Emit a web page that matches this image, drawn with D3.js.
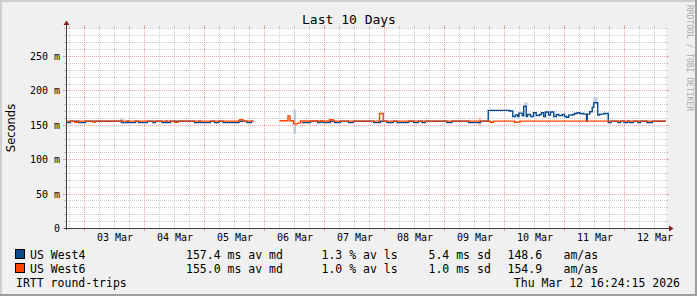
<!DOCTYPE html>
<html>
<head>
<meta charset="utf-8">
<script src="https://cdn.jsdelivr.net/npm/d3@7/dist/d3.min.js"></script>
<style>
  html, body { margin: 0; padding: 0; background: #f0f0f0; }
  svg { display: block; }
</style>
</head>
<body>
<svg id="chart" width="697" height="296"></svg>
<script>
// all times are hours since 2026-03-02 00:00, values in milliseconds
const title = "Last 10 Days";
const yLabel = "Seconds";
const watermark = "RRDTOOL / TOBI OETIKER";
const startHour = 16.404;
const endHour = 256.404;
const yMax = 290.7;

const yTicks = [0, 50, 100, 150, 200, 250];
const yTickLabels = ["0", "50 m", "100 m", "150 m", "200 m", "250 m"];
const dayTicks = [24, 48, 72, 96, 120, 144, 168, 192, 216, 240];
const dayLabels = ["03 Mar", "04 Mar", "05 Mar", "06 Mar", "07 Mar", "08 Mar", "09 Mar", "10 Mar", "11 Mar", "12 Mar"];

// US West4 (step changes, null = no data)
const west4Hours = [16.4, 18.2, 21.4, 24.2, 38.6, 41.0, 41.4, 44.2, 45.4, 49.0, 51.2, 52.2, 54.8, 56.2, 56.8, 58.2,
  67.8, 69.6, 70.2, 74.2, 75.8, 77.6, 79.2, 85.6, 88.8, 90.6, 91.4,
  110.8, 114.2, 117.0, 118.2, 119.0, 122.2, 123.8, 126.2, 129.4, 131.4, 139.4, 142.2, 144.8, 147.4, 148.8, 153.4,
  155.4, 157.4, 158.8, 160.2, 168.8, 170.8, 177.4, 182.2,
  185.3, 193.8, 195.1, 196.2, 197.1, 197.6, 198.9, 199.5, 200.5, 201.0, 202.2, 203.4, 204.5, 205.8, 206.6, 207.5,
  208.2, 209.4, 210.2, 211.5, 212.5, 213.5, 214.9, 215.8, 216.6, 217.5, 218.9, 219.8, 220.9, 221.9, 223.5, 224.6,
  224.9, 225.9, 226.9, 227.5, 229.1, 229.9, 231.5,
  233.3, 234.4, 237.2, 238.2, 239.6, 241.0, 241.8, 243.4, 245.2, 246.2, 248.8, 251.0];
const west4Values = [153.1, 155.2, 153.1, 155.2, 153.1, 155.2, 153.1, 155.2, 153.1, 155.2, 153.1, 155.2, 153.1, 155.2, 153.1, 155.2,
  153.1, 155.2, 153.1, 155.2, 153.1, 155.2, 153.1, 155.2, 153.1, 155.2, null,
  153.1, 155.2, 153.1, 155.2, 153.1, 155.2, 153.1, 155.2, 153.1, 155.2, 153.1, 155.2, 153.1, 155.2, 153.1, 155.2,
  153.1, 155.2, 153.1, 155.2, 153.1, 155.2, 153.1, 155.2,
  171.0, 170.0, 162.0, 164.5, 162.0, 167.0, 163.0, 177.0, 162.0, 165.0, 162.0, 167.5, 163.5, 165.0, 167.5, 162.0,
  168.5, 164.0, 168.5, 162.0, 165.0, 163.5, 165.0, 162.0, 161.0, 164.0, 165.0, 166.5, 167.5, 166.5, 165.5, 155.0,
  165.5, 169.0, 175.5, 182.0, 164.0, 165.5, 166.5,
  153.1, 155.2, 153.1, 155.2, 153.1, 155.2, 153.1, 155.2, 153.1, 155.2, 153.1, 155.2];

// US West6
const west6Hours = [16.4, 19.8, 21.2, 27.0, 28.2, 59.8, 61.2, 85.8, 87.2, 91.4,
  101.8, 105.2, 106.0, 107.4, 109.0, 110.2, 121.8, 123.4, 141.8, 143.3, 186.2, 187.4, 195.8, 198.0];
const west6Values = [155.3, 153.8, 155.3, 154.0, 155.3, 153.8, 155.3, 157.5, 155.3, null,
  155.8, 163.0, 155.8, 151.3, 152.5, 155.5, 157.3, 155.3, 166.4, 155.3, 153.8, 155.3, 153.8, 155.3];

// smoke (spread) patches
const west4SmokeStart = [38.2, 107.4, 199.8, 227.4];
const west4SmokeEnd = [39.4, 108.4, 201.0, 229.0];
const west4SmokeLow = [153.0, 137.0, 178.0, 183.0];
const west4SmokeHigh = [159.0, 172.0, 182.4, 190.0];
const west6SmokeStart = [177.4, 181.4];
const west6SmokeEnd = [178.2, 182.5];
const west6SmokeLow = [153.0, 148.0];
const west6SmokeHigh = [158.0, 160.0];

const seriesNames = ["US West4", "US West6"];
const seriesColors = ["#0b4b8d", "#ff4500"];
const smokeColors = ["#bccbdd", "#ffc4ae"];
const statMedian = ["157.4 ms av md", "155.0 ms av md"];
const statLoss = ["1.3 % av ls", "1.0 % av ls"];
const statSd = ["5.4 ms sd", "1.0 ms sd"];
const statAmAs = ["148.6", "154.9"];
const footer = "IRTT round-trips";
const stamp = "Thu Mar 12 16:24:15 2026";

const W = 697, H = 296;
const pL = 66, pR = 666, pT = 28, pB = 228;
const mono = "DejaVu Sans Mono, monospace";

const svg = d3.select("#chart");
const x = d3.scaleLinear().domain([startHour, endHour]).range([pL, pR]);
const y = d3.scaleLinear().domain([0, yMax]).range([pB, pT]);
const px = v => Math.floor(x(v)) + 0.5;
const py = v => Math.round(y(v)) + 0.5;

// background and frame
svg.append("rect").attr("width", W).attr("height", H).attr("fill", "#f0f0f0");
svg.append("rect").attr("x", 0).attr("y", 0).attr("width", W).attr("height", 2).attr("fill", "#cfcfcf");
svg.append("rect").attr("x", 0).attr("y", 0).attr("width", 2).attr("height", H).attr("fill", "#cfcfcf");
svg.append("rect").attr("x", 0).attr("y", H - 2).attr("width", W).attr("height", 2).attr("fill", "#9e9e9e");
svg.append("rect").attr("x", W - 2).attr("y", 0).attr("width", 2).attr("height", H).attr("fill", "#9e9e9e");

svg.append("rect").attr("x", pL).attr("y", pT).attr("width", pR - pL).attr("height", pB - pT)
  .attr("fill", "#ffffff");

const gridCol = "rgba(143,143,143,0.45)";
const mgridCol = "rgba(222,80,80,0.5)";
const grid = svg.append("g").attr("stroke-width", 1).attr("shape-rendering", "crispEdges");

// minor grid
const minorY = d3.range(10, yMax, 10).filter(v => v % 50 !== 0);
const minorX = d3.range(18, endHour, 6).filter(h => h % 24 !== 0 && h > startHour);
minorY.forEach(v => {
  grid.append("line").attr("x1", pL).attr("x2", pR).attr("y1", py(v)).attr("y2", py(v))
    .attr("stroke", gridCol).attr("stroke-dasharray", "1,1");
  grid.append("line").attr("x1", pL - 2).attr("x2", pL).attr("y1", py(v)).attr("y2", py(v)).attr("stroke", gridCol);
  grid.append("line").attr("x1", pR).attr("x2", pR + 2).attr("y1", py(v)).attr("y2", py(v)).attr("stroke", gridCol);
});
minorX.forEach(h => {
  grid.append("line").attr("x1", px(h)).attr("x2", px(h)).attr("y1", pT).attr("y2", pB)
    .attr("stroke", gridCol).attr("stroke-dasharray", "1,1");
  grid.append("line").attr("x1", px(h)).attr("x2", px(h)).attr("y1", pT - 2).attr("y2", pT).attr("stroke", gridCol);
  grid.append("line").attr("x1", px(h)).attr("x2", px(h)).attr("y1", pB).attr("y2", pB + 2).attr("stroke", gridCol);
});
// major grid
yTicks.filter(v => v > 0).forEach(v => {
  grid.append("line").attr("x1", pL).attr("x2", pR).attr("y1", py(v)).attr("y2", py(v))
    .attr("stroke", mgridCol).attr("stroke-dasharray", "1,1");
});
yTicks.forEach(v => {
  grid.append("line").attr("x1", pL - 3).attr("x2", pL).attr("y1", py(v)).attr("y2", py(v)).attr("stroke", mgridCol);
  grid.append("line").attr("x1", pR).attr("x2", pR + 3).attr("y1", py(v)).attr("y2", py(v)).attr("stroke", mgridCol);
});
dayTicks.forEach(h => {
  grid.append("line").attr("x1", px(h)).attr("x2", px(h)).attr("y1", pT).attr("y2", pB)
    .attr("stroke", mgridCol).attr("stroke-dasharray", "1,1");
  grid.append("line").attr("x1", px(h)).attr("x2", px(h)).attr("y1", pT - 3).attr("y2", pT).attr("stroke", mgridCol);
  grid.append("line").attr("x1", px(h)).attr("x2", px(h)).attr("y1", pB).attr("y2", pB + 3).attr("stroke", mgridCol);
});

// smoke
function drawSmoke(starts, ends, lows, highs, color) {
  svg.append("g").selectAll("rect").data(starts).join("rect")
    .attr("x", (d, i) => x(d))
    .attr("width", (d, i) => x(ends[i]) - x(d))
    .attr("y", (d, i) => y(highs[i]))
    .attr("height", (d, i) => y(lows[i]) - y(highs[i]))
    .attr("fill", color);
}
drawSmoke(west4SmokeStart, west4SmokeEnd, west4SmokeLow, west4SmokeHigh, smokeColors[0]);
drawSmoke(west6SmokeStart, west6SmokeEnd, west6SmokeLow, west6SmokeHigh, smokeColors[1]);

// step lines
function toPoints(hours, values) {
  const pts = [];
  let prev = null;
  hours.forEach((h, i) => {
    const v = values[i];
    if (v == null && prev != null) pts.push({ h, v: prev });
    pts.push({ h, v });
    prev = v;
  });
  if (prev != null) pts.push({ h: endHour, v: prev });
  return pts;
}
const line = d3.line()
  .defined(d => d.v != null)
  .x(d => x(d.h))
  .y(d => y(d.v))
  .curve(d3.curveStepAfter);

[[west4Hours, west4Values], [west6Hours, west6Values]].forEach(([hs, vs], i) => {
  svg.append("path")
    .datum(toPoints(hs, vs))
    .attr("d", line)
    .attr("fill", "none")
    .attr("stroke", seriesColors[i])
    .attr("stroke-width", 1.4);
});

// axes
const axisCol = "#404040";
const arrowCol = "#7f1f1f";
svg.append("line").attr("x1", pL + 0.5).attr("x2", pL + 0.5).attr("y1", pB + 2).attr("y2", 24)
  .attr("stroke", axisCol).attr("shape-rendering", "crispEdges");
svg.append("line").attr("x1", pL - 2).attr("x2", 670).attr("y1", pB + 0.5).attr("y2", pB + 0.5)
  .attr("stroke", axisCol).attr("shape-rendering", "crispEdges");
svg.append("path").attr("d", `M${pL - 2.5},25 L${pL + 0.5},20.5 L${pL + 3.5},25 Z`).attr("fill", arrowCol);
svg.append("path").attr("d", `M669,${pB - 2.5} L673.5,${pB + 0.5} L669,${pB + 3.5} Z`).attr("fill", arrowCol);

// tick labels
svg.append("g").selectAll("text").data(yTicks).join("text")
  .attr("x", 60).attr("y", d => py(d) + 3.7)
  .attr("text-anchor", "end").attr("font-family", mono).attr("font-size", 10).attr("fill", "#000")
  .text((d, i) => yTickLabels[i]);
svg.append("g").selectAll("text").data(dayTicks).join("text")
  .attr("x", d => x(d + 12)).attr("y", 240.5)
  .attr("text-anchor", "middle").attr("font-family", mono).attr("font-size", 10).attr("fill", "#000")
  .text((d, i) => dayLabels[i]);

// titles
svg.append("text").attr("x", 349).attr("y", 23.5).attr("text-anchor", "middle")
  .attr("font-family", mono).attr("font-size", 13).attr("fill", "#000").text(title);
svg.append("text").attr("transform", "translate(14.5,128) rotate(-90)").attr("text-anchor", "middle")
  .attr("font-family", "DejaVu Sans, sans-serif").attr("font-size", 11.5).attr("fill", "#000").text(yLabel);
svg.append("text").attr("transform", "translate(686.5,5) rotate(90)")
  .attr("font-family", mono).attr("font-size", 8).attr("fill", "#a8a8a8").text(watermark);

// legend
const legendCols = [30, 186, 321.5, 428.5, 507.5, 563.5];
seriesNames.forEach((name, i) => {
  const by = 258.5 + i * 14;
  svg.append("rect").attr("x", 15.5).attr("y", by - 9).attr("width", 9).attr("height", 9)
    .attr("fill", seriesColors[i]).attr("stroke", "#000").attr("stroke-width", 1);
  const row = [name, statMedian[i], statLoss[i], statSd[i], statAmAs[i], "am/as"];
  row.forEach((t, j) => {
    svg.append("text").attr("x", legendCols[j]).attr("y", by)
      .attr("font-family", mono).attr("font-size", 11.5).attr("fill", "#000").text(t);
  });
});
svg.append("text").attr("x", 16).attr("y", 286.5)
  .attr("font-family", mono).attr("font-size", 11.5).attr("fill", "#000").text(footer);
svg.append("text").attr("x", 680).attr("y", 286.5).attr("text-anchor", "end")
  .attr("font-family", mono).attr("font-size", 11.5).attr("fill", "#000").text(stamp);
</script>
</body>
</html>
